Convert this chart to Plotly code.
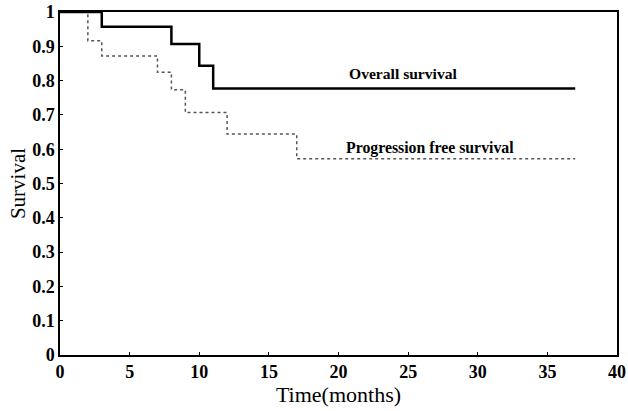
import plotly.graph_objects as go

os_time = [0, 3, 8, 10, 11, 37]
os_surv = [1.0, 0.957, 0.907, 0.843, 0.777, 0.777]

pfs_time = [0, 2, 3, 7, 8, 9, 12, 17, 37]
pfs_surv = [1.0, 0.916, 0.872, 0.824, 0.773, 0.707, 0.644, 0.572, 0.572]

x_ticks = [0, 5, 10, 15, 20, 25, 30, 35, 40]
y_ticks = [0, 0.1, 0.2, 0.3, 0.4, 0.5, 0.6, 0.7, 0.8, 0.9, 1]

font = "Liberation Serif"

fig = go.Figure()
fig.add_trace(go.Scatter(x=pfs_time, y=pfs_surv, mode="lines", line_shape="hv",
                         line=dict(color="#555555", width=1.5, dash="dot"),
                         name="Progression free survival", showlegend=False))
fig.add_trace(go.Scatter(x=os_time, y=os_surv, mode="lines", line_shape="hv",
                         line=dict(color="black", width=2.5),
                         name="Overall survival", showlegend=False))

fig.add_annotation(x=24.7, y=0.822, text="<b>Overall survival</b>", showarrow=False,
                   font=dict(family=font, size=15.6, color="black"))
fig.add_annotation(x=26.6, y=0.603, text="<b>Progression free survival</b>", showarrow=False,
                   font=dict(family=font, size=15.8, color="black"))

axis_common = dict(showgrid=False, zeroline=False, showline=True, linecolor="black",
                   linewidth=1.5, mirror=True, ticks="inside", ticklen=3,
                   tickcolor="black", automargin=False,
                   tickfont=dict(family=font, size=18, color="black", weight="bold"))

fig.update_xaxes(range=[0, 40], tickvals=x_ticks,
                 title=dict(text="Time(months)", font=dict(family=font, size=22, color="black"), standoff=2),
                 **axis_common)
fig.update_yaxes(range=[0, 1], tickvals=y_ticks,
                 title=dict(text="Survival", font=dict(family=font, size=21, color="black"), standoff=1),
                 **axis_common)

fig.update_layout(width=628, height=411, margin=dict(l=60, r=11, t=12, b=56),
                  plot_bgcolor="white", paper_bgcolor="white")

fig.write_html("out.html", config={"displayModeBar": False},
               post_script="document.body.style.margin='0';")
